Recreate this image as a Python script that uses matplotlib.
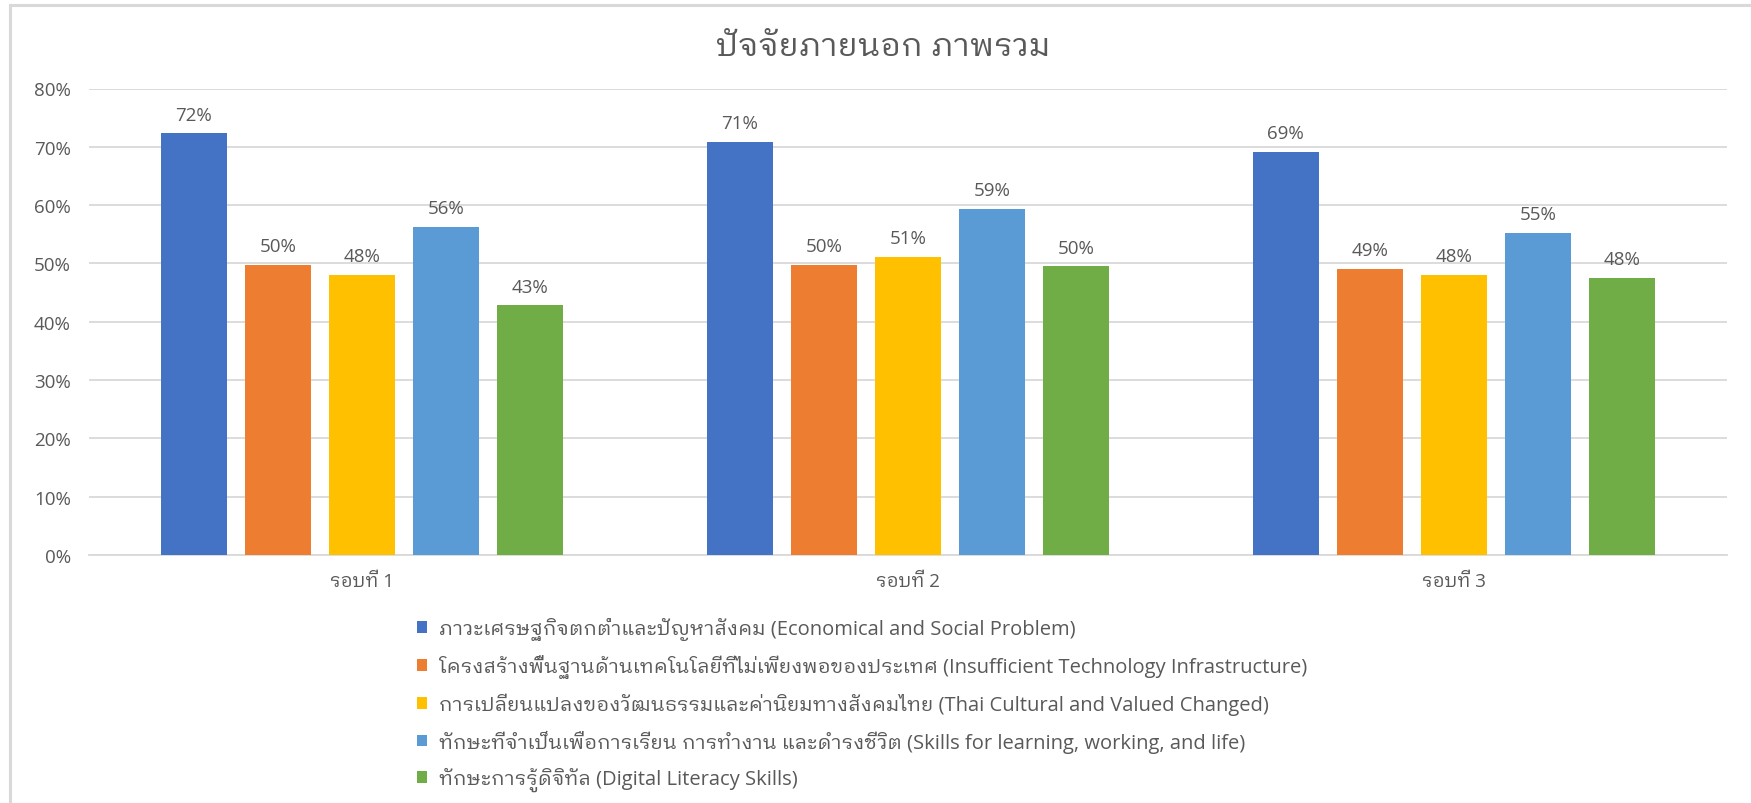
import matplotlib
matplotlib.use('Agg')
import matplotlib.pyplot as plt
from matplotlib import font_manager
from matplotlib.patches import Patch
from matplotlib.lines import Line2D
from matplotlib.ticker import PercentFormatter
import numpy as np

# ---------------- data ----------------
title = "ปัจจัยภายนอก ภาพรวม"
categories = ["รอบที่ 1", "รอบที่ 2", "รอบที่ 3"]
series_names = [
    "ภาวะเศรษฐกิจตกต่ำและปัญหาสังคม (Economical and Social Problem)",
    "โครงสร้างพื้นฐานด้านเทคโนโลยีที่ไม่เพียงพอของประเทศ (Insufficient Technology Infrastructure)",
    "การเปลี่ยนแปลงของวัฒนธรรมและค่านิยมทางสังคมไทย (Thai Cultural and Valued Changed)",
    "ทักษะที่จำเป็นเพื่อการเรียน การทำงาน และดำรงชีวิต (Skills for learning, working, and life)",
    "ทักษะการรู้ดิจิทัล (Digital Literacy Skills)",
]
economic = [0.723, 0.708, 0.691]
infrastructure = [0.497, 0.497, 0.491]
culture = [0.481, 0.511, 0.480]
skills = [0.563, 0.593, 0.552]
digital = [0.428, 0.495, 0.475]
series_values = [economic, infrastructure, culture, skills, digital]
colors = ["#4472C4", "#ED7D31", "#FFC000", "#5B9BD5", "#70AD47"]
yticks = [0, 0.1, 0.2, 0.3, 0.4, 0.5, 0.6, 0.7, 0.8]

# ---------------- font ----------------
available = {f.name for f in font_manager.fontManager.ttflist}
latin_pref = ['Open Sans', 'Noto Sans', 'DejaVu Sans']
thai_pref = ['IBM Plex Sans Thai Looped', 'Noto Sans Thai Looped', 'Sarabun', 'Noto Sans Thai']
latin_font = next((n for n in latin_pref if n in available), 'DejaVu Sans')
thai_fonts = [n for n in thai_pref if n in available][:2]
families = [latin_font] + thai_fonts + ['DejaVu Sans']
plt.rcParams['font.family'] = families

TXT = "#595959"
GRID = "#D9D9D9"

W, H = 1751, 804
fig = plt.figure(figsize=(W / 100, H / 100), dpi=100)
fig.patch.set_facecolor('white')

left, right, top, bottom = 89, 1727, 89.5, 556
ax = fig.add_axes([left / W, 1 - bottom / H, (right - left) / W, (bottom - top) / H])

x = np.arange(len(categories))
bw = 0.121
pitch = 0.154
n = len(series_values)
for i, (vals, col, name) in enumerate(zip(series_values, colors, series_names)):
    pos = x + (i - (n - 1) / 2) * pitch
    bars = ax.bar(pos, vals, width=bw, color=col, label=name, zorder=3)
    for b, v in zip(bars, vals):
        ax.annotate(f"{round(v * 100):.0f}%", (b.get_x() + b.get_width() / 2, v),
                    xytext=(0, 7), textcoords='offset points', ha='center', va='bottom',
                    fontsize=13.5, color=TXT)

ax.set_xlim(-0.5, len(categories) - 0.5)
ax.set_ylim(0, 0.8)
ax.set_yticks(yticks)
ax.yaxis.set_major_formatter(PercentFormatter(1.0, decimals=0))
ax.set_xticks(x)
ax.set_xticklabels(categories)
ax.tick_params(axis='both', length=0, labelsize=13.5, labelcolor=TXT)
ax.tick_params(axis='x', pad=12.5)
ax.tick_params(axis='y', pad=13)
ax.grid(axis='y', color=GRID, linewidth=1.3, zorder=0)
for s in ['top', 'right', 'left']:
    ax.spines[s].set_visible(False)
ax.spines['bottom'].set_color(GRID)
ax.spines['bottom'].set_linewidth(1.3)
ax.set_facecolor('none')

ttl = fig.text(883 / W, 1 - 47 / H, title, ha='center', va='center', fontsize=19, color=TXT)

LFS = 14.5
handles = [Patch(facecolor=c, edgecolor='none') for c in colors]
leg_kw = dict(loc='upper left', frameon=False, fontsize=LFS, labelcolor=TXT,
              handlelength=0.5, handleheight=0.5, handletextpad=0.6,
              borderaxespad=0, borderpad=0)
ls = 0.8
leg = fig.legend(handles, series_names, bbox_to_anchor=(417 / W, 1 - 610 / H),
                 labelspacing=ls, **leg_kw)

renderer = fig.canvas.get_renderer()
# title width fitted to reference extent
w = ttl.get_window_extent(renderer).width
ttl.set_fontsize(19 * 335 / w)

# legend row pitch and first row position fitted to reference
fig.canvas.draw()
texts = leg.get_texts()
c0 = texts[0].get_window_extent(renderer)
c1 = texts[1].get_window_extent(renderer)
pitch0 = (c0.y0 + c0.y1) / 2 - (c1.y0 + c1.y1) / 2
fs_px = LFS * 100 / 72
ls_new = ls + (37.9 - pitch0) / fs_px
leg.remove()
leg = fig.legend(handles, series_names, bbox_to_anchor=(417 / W, 1 - 610 / H),
                 labelspacing=ls_new, **leg_kw)
fig.canvas.draw()
c0 = leg.get_texts()[0].get_window_extent(renderer)
yc = H - (c0.y0 + c0.y1) / 2
shift = 629.5 - yc
leg.set_bbox_to_anchor((417 / W, 1 - (610 + shift) / H), transform=fig.transFigure)

# chart border (left and top visible)
fig.add_artist(Line2D([10 / W, 10 / W], [0, 1 - 6 / H], transform=fig.transFigure,
                      color=GRID, linewidth=2.2))
fig.add_artist(Line2D([10 / W, 1], [1 - 6 / H, 1 - 6 / H], transform=fig.transFigure,
                      color=GRID, linewidth=2.2))

fig.savefig('out.png', dpi=100, facecolor='white')
